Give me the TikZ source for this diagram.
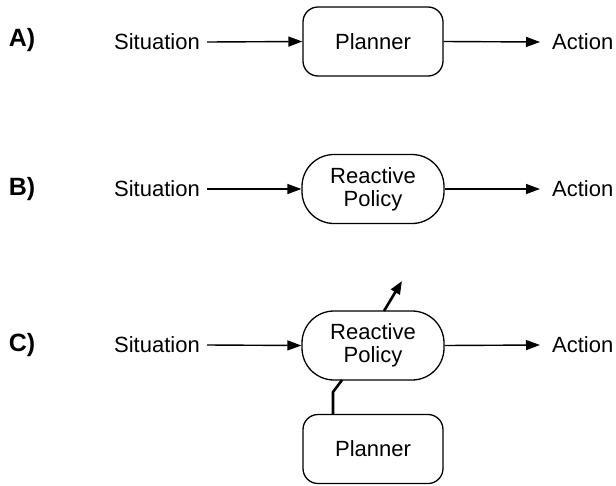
\documentclass[tikz,border=0pt]{standalone}
\usepackage{fontspec}
\setmainfont{Liberation Sans}
\usetikzlibrary{arrows.meta}
\begin{document}
\begin{tikzpicture}[x=1pt,y=-1pt,
  txt/.style={font=\fontsize{22}{24}\selectfont, inner sep=0pt},
  lbl/.style={font=\fontsize{25}{27}\selectfont\bfseries, inner sep=0pt},
  boxA/.style={draw, line width=1.3pt, rounded corners=15pt, minimum width=140pt, minimum height=69pt, font=\fontsize{22}{24}\selectfont, inner sep=0pt},
  pol/.style={draw, line width=1.3pt, rounded corners=32pt, minimum width=142pt, minimum height=69pt, font=\fontsize{22}{24}\selectfont, align=center, inner sep=0pt},
  arr/.style={line width=1.4pt, -{Triangle[length=14pt,width=10pt]}},
  thick2/.style={line width=2.6pt}
]
\useasboundingbox (0,0) rectangle (616,485);
% Row A
\node[lbl] (la) at (22,40) {A)};
\node[txt, anchor=east] (sa) at (200,42) {Situation};
\node[boxA] (pa) at (373,41.5) {Planner};
\node[txt, anchor=west] (aa) at (552,42) {Action};
\draw[arr] ([xshift=7pt]sa.east) -- (pa.west);
\draw[arr] (pa.east) -- ([xshift=-12pt]aa.west);
% Row B
\node[lbl] (lb) at (22,189) {B)};
\node[txt, anchor=east] (sb) at (200,189) {Situation};
\node[pol] (rb) at (373,189) {Reactive\\[-1pt]Policy};
\node[txt, anchor=west] (ab) at (552,189) {Action};
\draw[arr] ([xshift=7pt]sb.east) -- (rb.west);
\draw[arr] (rb.east) -- ([xshift=-12pt]ab.west);
% Row C
\node[lbl] (lc) at (22,345) {C)};
\node[txt, anchor=east] (sc) at (200,345) {Situation};
\node[pol] (rc) at (373,345.5) {Reactive\\[-1pt]Policy};
\node[txt, anchor=west] (ac) at (552,345) {Action};
\draw[arr] ([xshift=7pt]sc.east) -- (rc.west);
\draw[arr] (rc.east) -- ([xshift=-12pt]ac.west);
\node[boxA] (pc) at (373,449) {Planner};
\coordinate (up) at (402,281);
\draw[thick2, -{Triangle[length=13pt,width=10pt]}] (384,311) -- (up);
\draw[thick2] (pc.north -| 333,0) -- (333,392) -- (342,380);
\end{tikzpicture}
\end{document}
